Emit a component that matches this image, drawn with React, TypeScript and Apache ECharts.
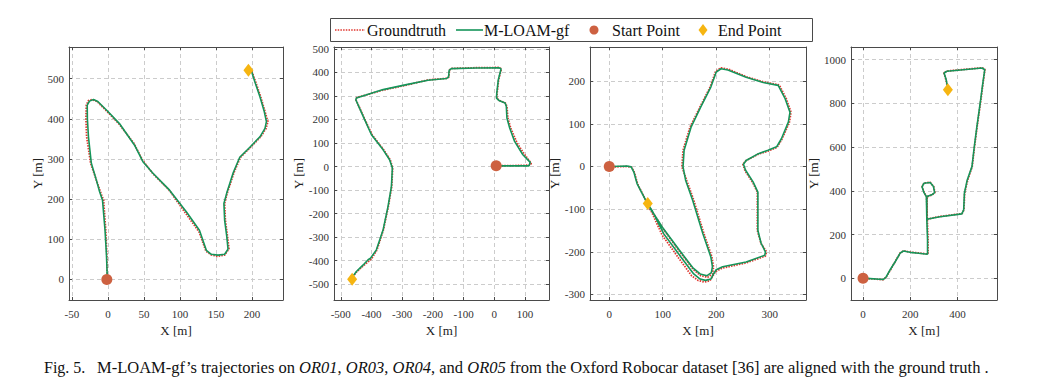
import React, { useEffect, useRef } from 'react';
import * as echarts from 'echarts';

// ---------- data ----------
const seriesNames = ['Groundtruth', 'M-LOAM-gf', 'Start Point', 'End Point'];

const or01Groundtruth = [[-1,0],[-1.5,60],[-3,122],[-6,197],[-10.5,218],[-16,247],[-24,289],[-29.5,355],[-30.5,400],[-30,434],[-27,445],[-22,448],[-15,443],[-1,418],[15,388],[36,339],[48,297],[62,264],[85,222],[108,164],[126.5,118],[136,70],[143,61],[152,57],[162,60],[168,76],[166,106],[163,147],[162,189],[165.5,214],[175,266],[184,304],[198,329],[212,355],[219.5,376],[222,393],[218,418],[212,455],[205,492],[200,517],[197.5,523]];
const or01Mloam = [[-1,10],[-2,60],[-4,122],[-7.5,197],[-11.5,218],[-16,247],[-23,289],[-27,355],[-28.5,400],[-28.7,434],[-25.5,444],[-20,448],[-14,443],[0,418],[16,388],[37,334],[48.6,293],[62.5,264],[85.6,222],[108.8,168],[127,122],[136.6,72],[143.5,62],[152.8,60],[162,62],[166.7,75],[165,106],[162,147],[161,189],[164.8,214],[174,266],[183,304],[197,329],[211,355],[218,376],[220,393],[217,418],[211,455],[204,492],[199.5,517],[197,523]];

const or03Groundtruth = [[6,3],[60,4],[118,6],[120,14],[98,52],[74,100],[53,165],[44,206],[41,256],[36,270],[16,281],[8,291],[9,312],[14,369],[21,405],[23,415],[15,421],[-59,420],[-140,417],[-146,410],[-148,381],[-155,375],[-216,368],[-286,346],[-362,325],[-448,293],[-451,285],[-426,213],[-398,135],[-360,71],[-339,29],[-331,-6],[-334,-84],[-345,-169],[-361,-268],[-382,-354],[-397,-386],[-405,-398],[-425,-420],[-448,-447],[-463,-472]];
const or03Mloam = [[6,3],[60,3],[113,3],[117,18],[93,50],[66,107],[50,164],[41,206],[39,256],[35,270],[15,281],[7,291],[8,312],[13,369],[20,405],[22,415],[15,420],[-59,419],[-140,416],[-147,409],[-149,381],[-156,374],[-216,367],[-286,348],[-362,327],[-449,291],[-451,284],[-427,213],[-400,135],[-362,71],[-341,29],[-332,-6],[-335,-84],[-346,-169],[-362,-268],[-384,-354],[-403,-389],[-411,-396],[-427,-418],[-449,-446],[-463,-470]];

const or04Groundtruth = [[0,0],[5,-1],[33,0],[42,-2],[47,-14],[53,-41],[69,-81],[78,-101],[100,-145],[132,-200],[157,-241],[171,-256],[184,-260],[193,-252],[195,-236],[192,-212],[177,-157],[158,-79],[145,-33],[136,-1],[138,38],[151,92],[170,140],[189,187],[199,223],[209,231],[223,228],[257,210],[289,198],[318,191],[331,159],[340,127],[337,104],[323,64],[314,45],[297,36],[279,29],[255,13],[250,5],[254,-10],[268,-37],[277,-60],[277,-110],[277,-150],[284,-181],[294,-200],[292,-210],[256,-226],[212,-238],[199,-246],[194,-256],[188,-268],[178,-271],[166,-267],[154,-256],[130,-215],[99,-161],[79,-106],[73,-93]];
const or04Mloam = [[0,0],[5,0],[33,1],[41,-1],[46,-13],[52,-40],[68,-79],[77,-99],[99,-142],[131,-196],[156,-237],[170,-252],[183,-256],[191,-249],[193,-235],[190,-212],[175,-157],[156,-79],[143,-33],[138,-1],[140,38],[153,92],[171,139],[190,186],[200,221],[209,229],[222,226],[256,209],[288,197],[316,190],[329,159],[338,127],[335,104],[322,65],[313,46],[297,38],[279,30],[256,14],[251,5],[255,-9],[269,-36],[278,-60],[278,-110],[278,-150],[284,-180],[292,-200],[291,-208],[256,-224],[212,-235],[200,-242],[195,-252],[190,-264],[180,-267],[170,-264],[158,-252],[134,-212],[102,-158],[80,-103],[74,-92]];

const or05Groundtruth = [[0,0],[15,-1],[86,-6],[99,8],[110,28],[118,42],[136,77],[157,116],[171,126],[199,120],[235,116],[275,111],[275,176],[272,267],[269,374],[258,393],[250,419],[258,436],[284,439],[299,420],[304,392],[291,381],[271,373],[271,300],[271,271],[326,283],[419,296],[427,313],[430,389],[443,450],[462,511],[472,603],[483,695],[497,802],[508,893],[516,955],[504,963],[355,948],[342,940],[351,908],[358,870]];
const or05Mloam = [[0,0],[15,0],[86,-5],[97,5],[114,38],[136,76],[157,115],[171,125],[199,119],[235,115],[273,110],[273,176],[270,267],[268,374],[258,392],[250,418],[258,435],[284,438],[298,420],[303,392],[291,382],[270,374],[270,300],[270,270],[326,282],[418,295],[426,313],[429,389],[441,450],[461,511],[471,603],[482,695],[496,802],[507,893],[515,954],[504,962],[355,947],[343,939],[352,908],[359,870]];

const startPoints = [[-1.5,-1],[6,3],[0,0],[0,0]];
const endPoints = [[195,521],[-463,-479],[72,-87],[359,863]];

const xTicks = [[-50,0,50,100,150,200],[-500,-400,-300,-200,-100,0,100],[0,100,200,300],[0,200,400]];
const yTicks = [[0,100,200,300,400,500],[-500,-400,-300,-200,-100,0,100,200,300,400,500],[-300,-200,-100,0,100,200],[0,200,400,600,800,1000]];
const xRanges = [[-54,243],[-522,178],[-36,368],[-51,567]];
const yRanges = [[-52,579],[-567,508],[-313,280],[-99,1058]];

const xName = 'X [m]';
const yName = 'Y [m]';
const captionLead = 'Fig. 5.';
const captionBody = '{n|M-LOAM-gf\u2019s trajectories on }{i|OR01}{n|, }{i|OR03}{n|, }{i|OR04}{n|, and }{i|OR05}{n| from the Oxford Robocar dataset [36] are aligned with the ground truth .}';

const groundtruths = [or01Groundtruth, or03Groundtruth, or04Groundtruth, or05Groundtruth];
const estimates = [or01Mloam, or03Mloam, or04Mloam, or05Mloam];

// ---------- layout / style ----------
const gridBoxes = [
  { left: 69, top: 47, width: 214, height: 253 },
  { left: 334, top: 47, width: 215, height: 253 },
  { left: 590, top: 47, width: 216, height: 253 },
  { left: 851, top: 47, width: 146, height: 253 },
];
const yNameGaps = [25, 28, 21, 27];
const FONT = 'Liberation Serif';
const RED = '#e0362e';
const GREEN = '#15955a';
const START = '#cd6141';
const END = '#f6b511';
const FRAME = '#4a4a4a';
const LEG_Y = 30;

const tickRich = { t: { fontFamily: FONT, fontSize: 11, fill: '#333', color: '#333' } };
const nameRich = { m: { fontFamily: FONT, fontSize: 13, fill: '#222', color: '#222' } };

function buildOption() {
  const grid: any[] = [];
  const xAxis: any[] = [];
  const yAxis: any[] = [];
  const series: any[] = [];
  const fmt = (v: number) => '{t|' + String(v) + '}';
  for (let i = 0; i < 4; i++) {
    grid.push({ ...gridBoxes[i], containLabel: false });
    const common = (min: number, max: number, ticks: number[]) => ({
      type: 'value', gridIndex: i, min, max,
      axisLine: { show: true, onZero: false, lineStyle: { color: FRAME, width: 1 } },
      axisTick: { show: true, inside: true, length: 3, customValues: ticks, lineStyle: { color: FRAME } },
    });
    xAxis.push({
      ...common(xRanges[i][0], xRanges[i][1], xTicks[i]),
      position: 'bottom',
      name: '{m|' + xName + '}', nameLocation: 'middle', nameGap: 18,
      nameTextStyle: { fontFamily: FONT, fontSize: 13, color: '#222', rich: nameRich },
      axisLabel: { customValues: xTicks[i], formatter: fmt, fontFamily: FONT, fontSize: 11, color: '#333', margin: 8, rich: tickRich },
      splitLine: { show: true, lineStyle: { color: '#cccccc', type: [4, 3], width: 1 } },
    });
    xAxis.push({
      ...common(xRanges[i][0], xRanges[i][1], xTicks[i]),
      position: 'top',
      axisLabel: { show: false },
      splitLine: { show: false },
    });
    yAxis.push({
      ...common(yRanges[i][0], yRanges[i][1], yTicks[i]),
      position: 'left',
      name: '{m|' + yName + '}', nameLocation: 'middle', nameGap: yNameGaps[i], nameRotate: 90,
      nameTextStyle: { fontFamily: FONT, fontSize: 13, color: '#222', rich: nameRich },
      axisLabel: { customValues: yTicks[i], formatter: fmt, fontFamily: FONT, fontSize: 11, color: '#333', margin: 5, rich: tickRich },
      splitLine: { show: true, lineStyle: { color: '#cccccc', type: [4, 3], width: 1 } },
    });
    yAxis.push({
      ...common(yRanges[i][0], yRanges[i][1], yTicks[i]),
      position: 'right',
      axisLabel: { show: false },
      splitLine: { show: false },
    });
    const ax = { xAxisIndex: 2 * i, yAxisIndex: 2 * i };
    series.push({
      name: seriesNames[0], type: 'line', ...ax, data: groundtruths[i], showSymbol: false, symbol: 'none',
      lineStyle: { color: RED, width: 1.8, type: [1.5, 1.2] }, itemStyle: { color: RED }, z: 2,
    });
    series.push({
      name: seriesNames[1], type: 'line', ...ax, data: estimates[i], showSymbol: false, symbol: 'none',
      lineStyle: { color: GREEN, width: 1.6 }, itemStyle: { color: GREEN }, z: 3,
    });
    series.push({
      name: seriesNames[2], type: 'scatter', ...ax, data: [startPoints[i]], symbol: 'circle', symbolSize: 11,
      itemStyle: { color: START, opacity: 1 }, z: 4,
    });
    series.push({
      name: seriesNames[3], type: 'scatter', ...ax, data: [endPoints[i]], symbol: 'diamond', symbolSize: [10, 13],
      itemStyle: { color: END, opacity: 1 }, z: 5,
    });
  }
  const legText = (x: number, s: string) => ({
    type: 'text', x, y: LEG_Y, z: 101,
    style: { text: s, fontFamily: FONT, fontSize: 16, fill: '#111', textVerticalAlign: 'middle', verticalAlign: 'middle', align: 'left' },
  });
  const legend = {
    type: 'group', z: 100,
    children: [
      { type: 'rect', z: 100, shape: { x: 330.5, y: 18.5, width: 482, height: 23 }, style: { fill: '#fff', stroke: FRAME, lineWidth: 1 } },
      { type: 'line', z: 101, shape: { x1: 335, y1: LEG_Y, x2: 365, y2: LEG_Y }, style: { stroke: RED, lineWidth: 1.5, lineDash: [1.5, 1.2] } },
      legText(367, seriesNames[0]),
      { type: 'line', z: 101, shape: { x1: 456, y1: LEG_Y, x2: 483, y2: LEG_Y }, style: { stroke: GREEN, lineWidth: 1.6 } },
      legText(484, seriesNames[1]),
      { type: 'circle', z: 101, shape: { cx: 594, cy: LEG_Y, r: 4.5 }, style: { fill: START } },
      legText(612, seriesNames[2]),
      { type: 'polygon', z: 101, shape: { points: [[703, LEG_Y - 6], [707.5, LEG_Y], [703, LEG_Y + 6], [698.5, LEG_Y]] }, style: { fill: END } },
      legText(718, seriesNames[3]),
    ],
  };
  return {
    animation: false,
    backgroundColor: '#ffffff',
    textStyle: { fontFamily: FONT },
    grid, xAxis, yAxis, series,
    graphic: [
      legend,
      {
        type: 'text', x: 44, y: 367,
        style: { text: captionLead, fontFamily: FONT, fontSize: 16, fill: '#111', verticalAlign: 'middle', textVerticalAlign: 'middle' },
      },
      {
        type: 'text', x: 97, y: 367,
        style: {
          text: captionBody,
          verticalAlign: 'middle', textVerticalAlign: 'middle',
          rich: {
            n: { fontFamily: FONT, fontSize: 16.5, fill: '#111' },
            i: { fontFamily: FONT, fontSize: 16.5, fontStyle: 'italic', fill: '#111' },
          },
        },
      },
    ],
  };
}

export default function App() {
  const ref = useRef<HTMLDivElement>(null);
  useEffect(() => {
    if (!ref.current) return;
    const chart = echarts.init(ref.current, null, { renderer: 'svg' });
    chart.setOption(buildOption() as any);
    return () => chart.dispose();
  }, []);
  return (
    <div
      ref={ref}
      style={{ position: 'fixed', left: 0, top: 0, width: 1062, height: 390, background: '#fff' }}
    />
  );
}
